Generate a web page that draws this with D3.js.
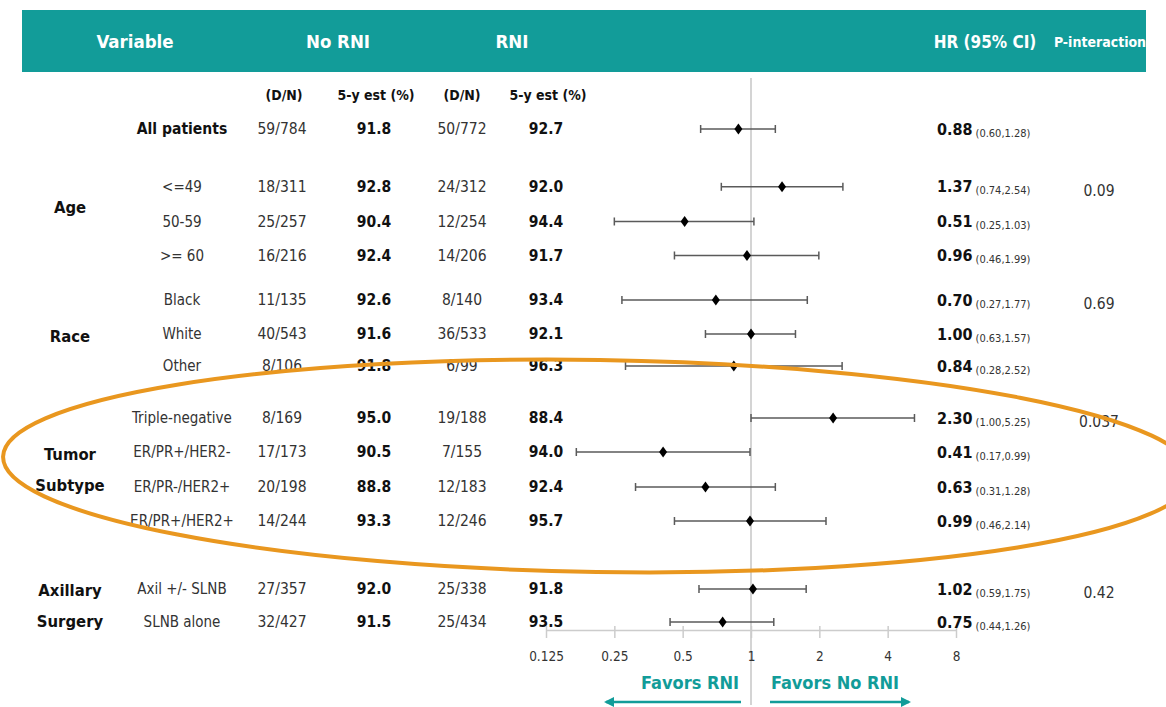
<!DOCTYPE html>
<html><head><meta charset="utf-8">
<script src="https://cdn.jsdelivr.net/npm/d3@7"></script>
<style>
body{margin:0;background:#fff;}
text{font-family:"DejaVu Sans Condensed","Liberation Sans Narrow",sans-serif;}
</style></head>
<body><svg id="c" width="1166" height="707"></svg>
<script>
// ---------- data ----------
const headers = ["Variable","No RNI","RNI","HR (95% CI)","P-interaction"];
const subHeaders = ["(D/N)","5-y est (%)","(D/N)","5-y est (%)"];
const groups = ["", "Age", "Race", "Tumor\nSubtype", "Axillary\nSurgery"];
const rowGroup = [0,1,1,1,2,2,2,3,3,3,3,4,4];
const subgroups = ["All patients","<=49","50-59",">= 60","Black","White","Other","Triple-negative","ER/PR+/HER2-","ER/PR-/HER2+","ER/PR+/HER2+","Axil +/- SLNB","SLNB alone"];
const dnNoRNI = ["59/784","18/311","25/257","16/216","11/135","40/543","8/106","8/169","17/173","20/198","14/244","27/357","32/427"];
const estNoRNI = ["91.8","92.8","90.4","92.4","92.6","91.6","91.8","95.0","90.5","88.8","93.3","92.0","91.5"];
const dnRNI = ["50/772","24/312","12/254","14/206","8/140","36/533","6/99","19/188","7/155","12/183","12/246","25/338","25/434"];
const estRNI = ["92.7","92.0","94.4","91.7","93.4","92.1","96.3","88.4","94.0","92.4","95.7","91.8","93.5"];
const hr = [0.88,1.37,0.51,0.96,0.70,1.00,0.84,2.30,0.41,0.63,0.99,1.02,0.75];
const ciLow = [0.60,0.74,0.25,0.46,0.27,0.63,0.28,1.00,0.17,0.31,0.46,0.59,0.44];
const ciHigh = [1.28,2.54,1.03,1.99,1.77,1.57,2.52,5.25,0.99,1.28,2.14,1.75,1.26];
const pInteraction = ["","0.09","0.69","0.037","0.42"];
const xTicks = [0.125,0.25,0.5,1,2,4,8];
const xTickLabels = ["0.125","0.25","0.5","1","2","4","8"];
const favorLabels = ["Favors RNI","Favors No RNI"];

// ---------- layout ----------
const teal = "#129c99", orange = "#e9971f";
const svg = d3.select("#c");
const rowSlot = [0,1.7,2.72,3.72,5.03,6.03,6.97,8.5,9.5,10.53,11.53,13.53,14.5];
const y = d3.scaleLinear().domain([0,1]).range([129,163]);
const x = d3.scaleLog().base(2).domain([0.125,8]).range([546,956]);
const rowY = i => y(rowSlot[i]);

// header band
svg.append("rect").attr("x",22).attr("y",10).attr("width",1124).attr("height",62).attr("fill",teal);
const hdrX = [135,338,512,985,1100];
svg.selectAll("text.hdr").data(headers).join("text").attr("class","hdr")
  .attr("x",(d,i)=>hdrX[i]).attr("y",42).attr("dy","0.35em")
  .attr("text-anchor","middle").attr("fill","#fff").attr("font-weight","bold")
  .attr("font-size",(d,i)=>i===4?14:(i===3?17:18.5)).text(d=>d);

const subX = [284,376,462,548];
svg.selectAll("text.sub").data(subHeaders).join("text").attr("class","sub")
  .attr("x",(d,i)=>subX[i]).attr("y",95).attr("dy","0.35em")
  .attr("text-anchor","middle").attr("fill","#111").attr("font-weight","bold")
  .attr("font-size",14).text(d=>d);

// reference line at HR=1
svg.append("line").attr("x1",x(1)).attr("x2",x(1)).attr("y1",78).attr("y2",705)
  .attr("stroke","#d4d4d4").attr("stroke-width",2);

// group labels
groups.forEach((g,gi)=>{
  if(!g) return;
  const idx = rowGroup.map((v,i)=>v===gi?i:-1).filter(i=>i>=0);
  let cy = d3.mean(idx, rowY);
  if(gi===1) cy -= 14;
  if(gi===2) cy += 3;
  const lines = g.split("\n");
  const t = svg.append("text").attr("x",70).attr("text-anchor","middle")
    .attr("font-weight","bold").attr("font-size",16.5).attr("fill","#111");
  lines.forEach((l,li)=>{
    t.append("tspan").attr("x",70).attr("y",cy + (li-(lines.length-1)/2)*31).attr("dy","0.35em").text(l);
  });
});

// table columns
const colX = [282,374,462,546];
const rows = d3.range(subgroups.length);
svg.selectAll("text.sg").data(rows).join("text").attr("class","sg")
  .attr("x",182).attr("y",rowY).attr("dy","0.35em").attr("text-anchor","middle")
  .attr("font-size",i=>i===0?15.5:15).attr("font-weight",i=>i===0?"bold":"normal")
  .attr("fill",i=>i===0?"#111":"#333").text(i=>subgroups[i]);
[dnNoRNI,estNoRNI,dnRNI,estRNI].forEach((arr,ci)=>{
  svg.selectAll("text.col"+ci).data(rows).join("text").attr("class","col"+ci)
    .attr("x",colX[ci]).attr("y",rowY).attr("dy","0.35em").attr("text-anchor","middle")
    .attr("font-size",15.5).attr("font-weight",ci%2===1?"bold":"normal")
    .attr("fill",ci%2===1?"#111":"#333").text(i=>arr[i]);
});

// forest plot
const g = svg.append("g");
rows.forEach(i=>{
  const yy = rowY(i);
  g.append("line").attr("x1",x(ciLow[i])).attr("x2",x(ciHigh[i])).attr("y1",yy).attr("y2",yy)
    .attr("stroke","#5a5a5a").attr("stroke-width",1.5);
  [ciLow[i],ciHigh[i]].forEach(v=>{
    g.append("line").attr("x1",x(v)).attr("x2",x(v)).attr("y1",yy-4).attr("y2",yy+4)
      .attr("stroke","#5a5a5a").attr("stroke-width",1.5);
  });
  const cx = x(hr[i]);
  g.append("path").attr("d",`M${cx},${yy-5.5}L${cx+4},${yy}L${cx},${yy+5.5}L${cx-4},${yy}Z`).attr("fill","#000");
});

// axis
const axis = d3.axisBottom(x).tickValues(xTicks).tickFormat((d,i)=>xTickLabels[i]).tickSize(9).tickSizeOuter(0);
const ax = svg.append("g").attr("transform","translate(0,630)").call(axis);
ax.select(".domain").attr("stroke","#ccc").attr("stroke-width",1.5);
ax.selectAll(".tick line").attr("stroke","#ccc").attr("stroke-width",1.5).attr("y1",-4).attr("y2",8);
ax.selectAll(".tick text").attr("font-size",13.5).attr("fill","#333").attr("y",21)
  .attr("font-family",'"DejaVu Sans Condensed",sans-serif');

// HR text
rows.forEach(i=>{
  const t = svg.append("text").attr("x",937).attr("y",rowY(i)).attr("dy","0.35em").attr("fill","#111");
  t.append("tspan").attr("font-weight","bold").attr("font-size",16).text(d3.format(".2f")(hr[i]));
  t.append("tspan").attr("font-size",11).attr("fill","#333").attr("dx",3).attr("dy",2)
    .text(`(${d3.format(".2f")(ciLow[i])},${d3.format(".2f")(ciHigh[i])})`);
});

// P-interaction
pInteraction.forEach((p,gi)=>{
  if(!p) return;
  const first = rowGroup.indexOf(gi);
  svg.append("text").attr("x",1099).attr("y",rowY(first)+4).attr("dy","0.35em")
    .attr("text-anchor","middle").attr("font-size",15.5).attr("fill","#333").text(p);
});

// favors labels & arrows
const favX = [690,835];
svg.selectAll("text.fav").data(favorLabels).join("text").attr("class","fav")
  .attr("x",(d,i)=>favX[i]).attr("y",683).attr("dy","0.35em").attr("text-anchor","middle")
  .attr("font-size",18).attr("font-weight","bold").attr("fill",teal).text(d=>d);
const defs = svg.append("defs");
defs.append("marker").attr("id","ah").attr("viewBox","0 0 10 10").attr("refX",8).attr("refY",5)
  .attr("markerWidth",4).attr("markerHeight",4).attr("orient","auto-start-reverse")
  .append("path").attr("d","M0,0L10,5L0,10Z").attr("fill",teal);
svg.append("line").attr("x1",741).attr("x2",606).attr("y1",702).attr("y2",702)
  .attr("stroke",teal).attr("stroke-width",2.5).attr("marker-end","url(#ah)");
svg.append("line").attr("x1",770).attr("x2",909).attr("y1",702).attr("y2",702)
  .attr("stroke",teal).attr("stroke-width",2.5).attr("marker-end","url(#ah)");

// highlight ellipse
svg.append("ellipse").attr("cx",598).attr("cy",466).attr("rx",595).attr("ry",106)
  .attr("transform","rotate(0.9 598 466)")
  .attr("fill","none").attr("stroke",orange).attr("stroke-width",4);
</script></body></html>
